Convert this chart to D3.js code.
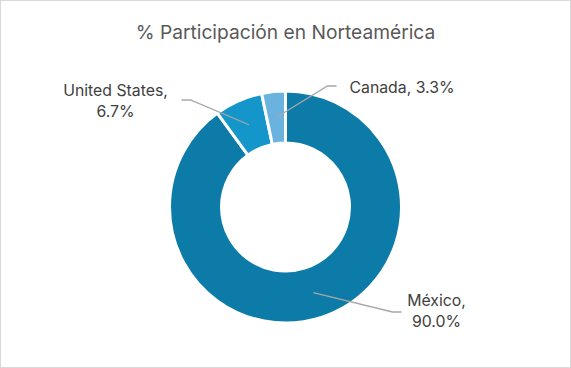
<!DOCTYPE html>
<html>
<head>
<meta charset="utf-8">
<script src="https://cdn.jsdelivr.net/npm/d3@7"></script>
<style>
  body { margin: 0; background: #fff; }
  svg { display: block; font-family: Inter, "Open Sans", sans-serif; }
</style>
</head>
<body>
<svg width="571" height="368"></svg>
<script>
  // Data
  const countries = ['México', 'United States', 'Canada'];
  const shares = [90.0, 6.7, 3.3];
  const colors = ['#0D7BA8', '#1596CB', '#6BB3DF'];

  const svg = d3.select('svg');
  const width = +svg.attr('width');
  const height = +svg.attr('height');

  // chart area border
  svg.append('rect')
    .attr('x', 0.5).attr('y', 0.5)
    .attr('width', width - 1).attr('height', height - 1)
    .attr('fill', '#fff')
    .attr('stroke', '#D9D9D9');

  // Title
  svg.append('text')
    .attr('x', width / 2)
    .attr('y', 39)
    .attr('text-anchor', 'middle')
    .attr('fill', '#595959')
    .attr('font-size', 19.2)
    .text('% Participación en Norteamérica');

  const cx = 285.5, cy = 207;
  const outerR = 116, innerR = 64;

  const data = countries.map((c, i) => ({ name: c, value: shares[i], color: colors[i] }));

  const pie = d3.pie().sort(null).value(d => d.value);
  const arc = d3.arc().innerRadius(innerR).outerRadius(outerR);
  const midArc = d3.arc().innerRadius((innerR + outerR) / 2).outerRadius((innerR + outerR) / 2);

  const g = svg.append('g').attr('transform', `translate(${cx},${cy})`);
  const arcs = pie(data);

  g.selectAll('path.slice').data(arcs)
    .enter().append('path')
      .attr('class', 'slice')
      .attr('d', arc)
      .attr('fill', d => d.data.color)
      .attr('stroke', '#fff')
      .attr('stroke-width', 3);

  // Label placement (relative to centre): elbow point, end point, text anchor
  const labelLayout = {
    'México':        { elbow: [107, 105], end: [116, 105], text: [151, 99], anchor: 'middle' },
    'United States': { elbow: [-95, -107], end: [-104, -107], text: [-170, -111], anchor: 'middle' },
    'Canada':        { elbow: [42, -121], end: [51, -121], text: [64, -114], anchor: 'start' }
  };

  arcs.forEach(d => {
    const L = labelLayout[d.data.name];
    const p0 = midArc.centroid(d);
    g.append('polyline')
      .attr('points', [p0, L.elbow, L.end].map(p => p.join(',')).join(' '))
      .attr('fill', 'none')
      .attr('stroke', '#A6A6A6')
      .attr('stroke-width', 1.3);

    const t = g.append('text')
      .attr('x', L.text[0])
      .attr('y', L.text[1])
      .attr('text-anchor', L.anchor)
      .attr('fill', '#404040')
      .attr('font-size', 15.8);
    const pct = d.data.value.toFixed(1) + '%';
    if (d.data.name === 'Canada') {
      t.text(`${d.data.name}, ${pct}`);
    } else {
      t.append('tspan').attr('x', L.text[0]).text(d.data.name + ',');
      t.append('tspan').attr('x', L.text[0]).attr('dy', 21).text(pct);
    }
  });
</script>
</body>
</html>
